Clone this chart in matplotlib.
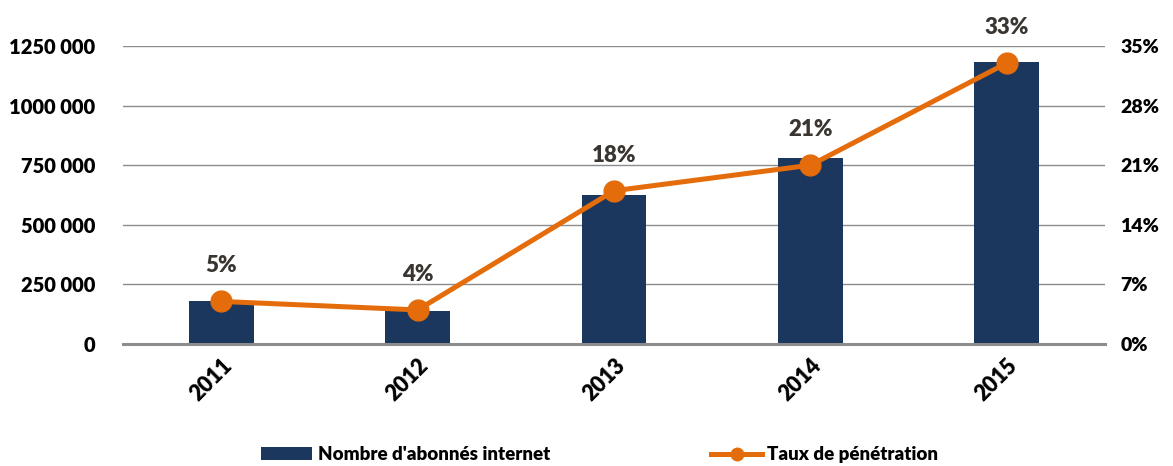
import matplotlib
matplotlib.use("Agg")
import matplotlib.pyplot as plt
from matplotlib.ticker import FuncFormatter
from matplotlib.lines import Line2D

years = ["2011", "2012", "2013", "2014", "2015"]
subscribers = [180000, 138000, 625000, 780000, 1183000]
penetration = [5, 4, 18, 21, 33]
left_ticks = [0, 250000, 500000, 750000, 1000000, 1250000]
right_ticks = [0, 7, 14, 21, 28, 35]

W = 800
plt.rcParams['font.family'] = ['Lato', 'DejaVu Sans']
plt.rcParams['font.weight'] = W

navy = '#1B375E'
orange = '#E46C0A'

fig = plt.figure(figsize=(11.73, 4.66), dpi=100)
ax = fig.add_axes([0.1049, 0.2618, 0.8372, 0.6395])
x = list(range(len(years)))
bars = ax.bar(x, subscribers, width=0.33, color=navy, zorder=2)
ax.set_xlim(-0.5, len(years) - 0.5)
ax.set_ylim(0, 1250000)
ax.set_yticks(left_ticks)


def fmt(v, p):
    if v == 0:
        return "0"
    s = f"{int(v):,}".replace(",", " ")
    if v >= 1000000:
        s = s.replace(" ", "", 1)
    return s


ax.yaxis.set_major_formatter(FuncFormatter(fmt))
ax.grid(axis='y', color='#8c8c8c', linewidth=1, zorder=0)
for s in ['left', 'right', 'top']:
    ax.spines[s].set_visible(False)
ax.spines['bottom'].set_color('#8c8c8c')
ax.spines['bottom'].set_linewidth(2.2)
ax.tick_params(axis='y', length=0, pad=20, labelsize=14.5)
ax.tick_params(axis='x', length=0, pad=8, labelsize=15.5)
ax.set_xticks(x)
ax.set_xticklabels(years, rotation=45, ha='right', rotation_mode='anchor', fontweight=W)
for lab in ax.get_yticklabels():
    lab.set_fontweight(W)

ax2 = ax.twinx()
ax2.set_ylim(0, 35)
ax2.set_yticks(right_ticks)
ax2.set_yticklabels([f"{t}%" for t in right_ticks], fontweight=W)
ax2.tick_params(axis='y', length=0, pad=11, labelsize=14)
for s in ['left', 'right', 'top', 'bottom']:
    ax2.spines[s].set_visible(False)
line, = ax2.plot(x, penetration, color=orange, linewidth=3.6, marker='o', markersize=15, zorder=3)
for xi, v in zip(x, penetration):
    ax2.annotate(f"{v}%", (xi, v), xytext=(0, 18), textcoords='offset points',
                 ha='center', va='bottom', fontsize=16, fontweight=W, color='#3a3530')

line_handle = Line2D([0], [0], color=orange, linewidth=3.6, marker='o', markersize=9)
fig.legend(handles=[bars, line_handle], labels=["Nombre d'abonnés internet", "Taux de pénétration"],
           loc='lower center', bbox_to_anchor=(0.5115, -0.03), ncol=2, frameon=False,
           columnspacing=8.6, handlelength=2.7, handletextpad=0.3,
           prop={'weight': W, 'size': 13.5})

fig.savefig("out.png", dpi=100)
